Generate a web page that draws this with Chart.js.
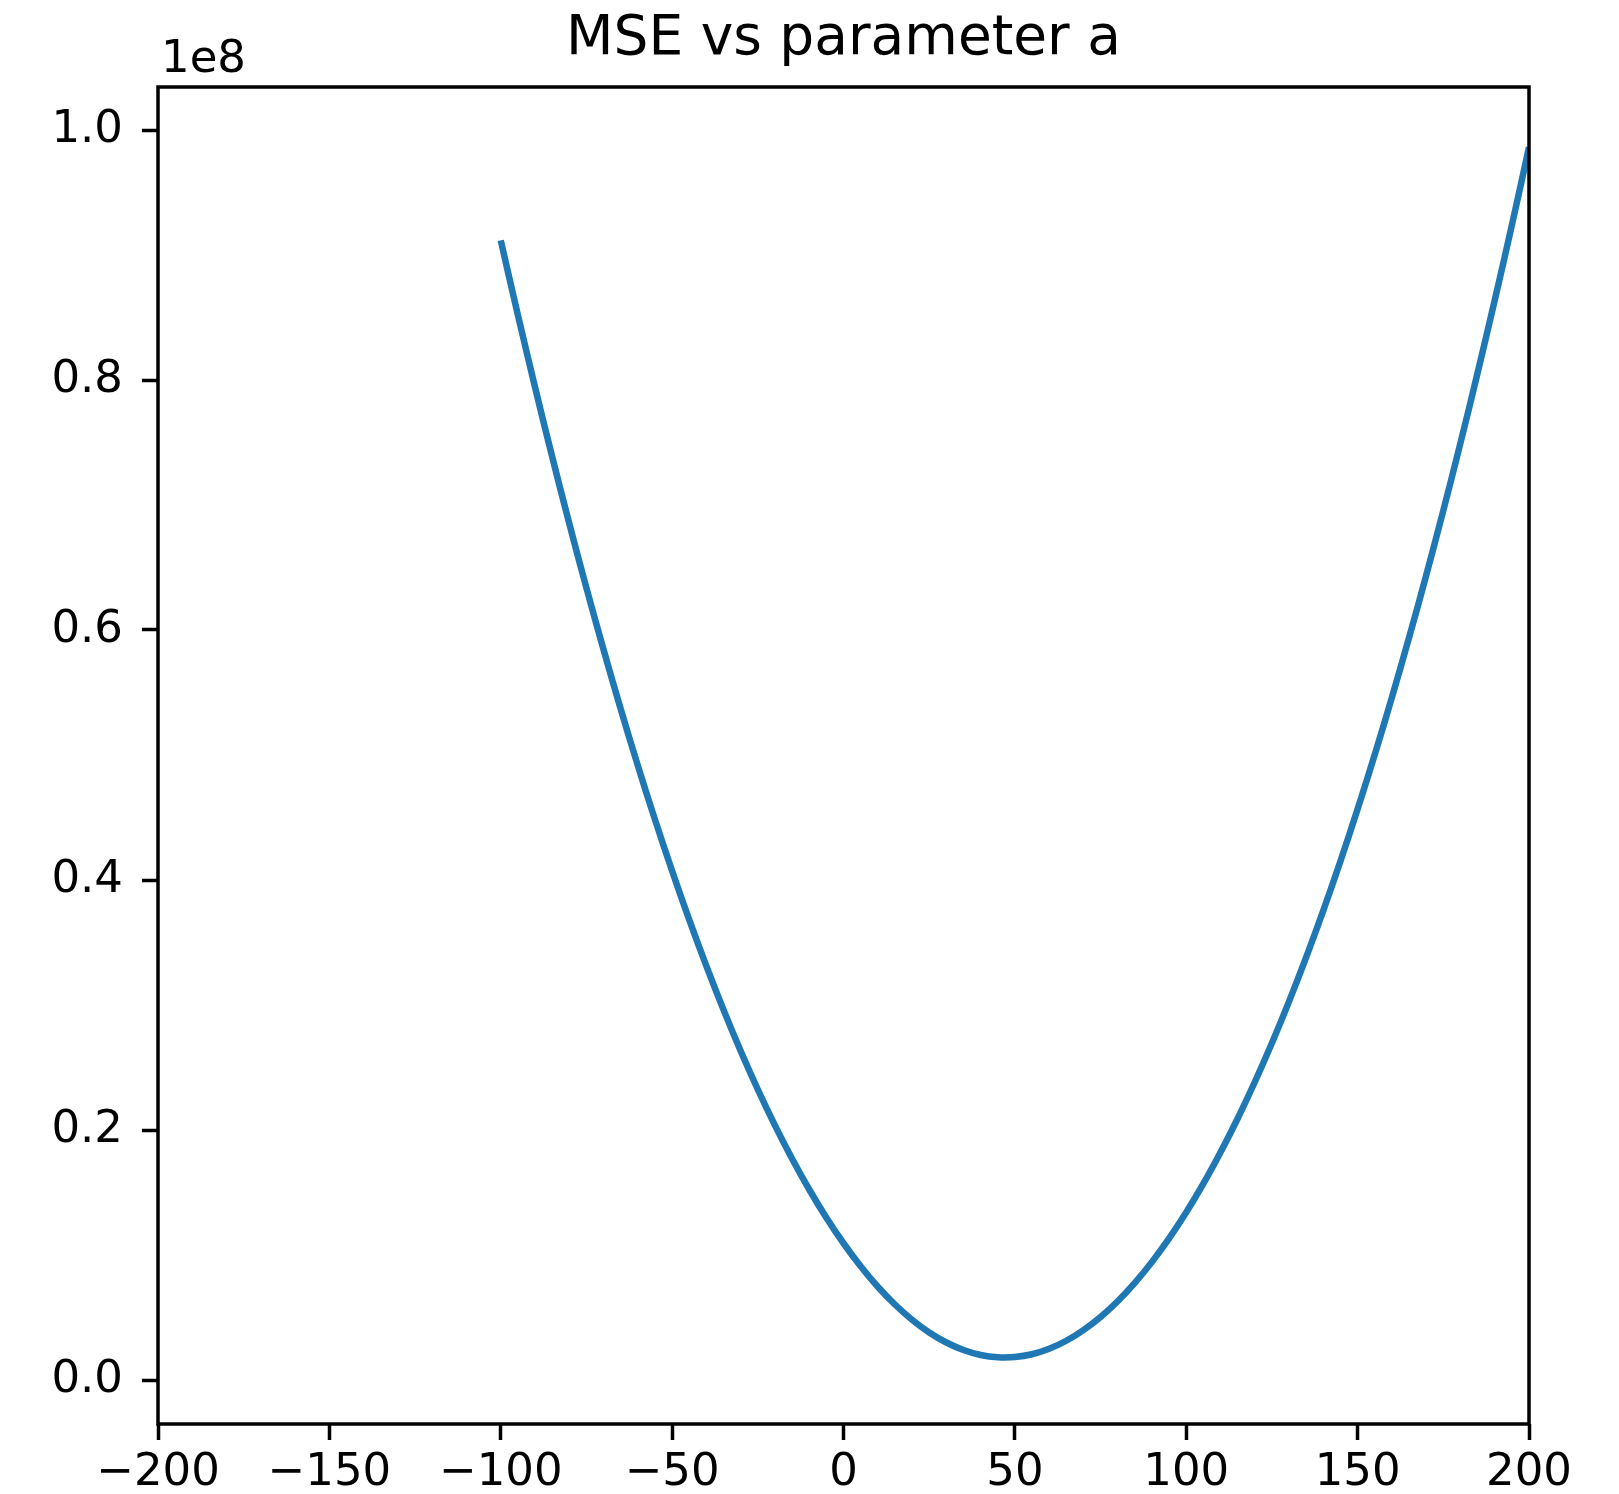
<!DOCTYPE html>
<html>
<head>
<meta charset="utf-8">
<title>MSE vs parameter a</title>
<script src="https://cdn.jsdelivr.net/npm/chart.js@4"></script>
<style>
  html, body { margin: 0; padding: 0; background: #fff; }
  #c { display: block; }
</style>
</head>
<body>
<canvas id="c" width="1619" height="1494"></canvas>
<script>
// ---- data ----
const aValues = [-100, -95, -90, -85, -80, -75, -70, -65, -60, -55, -50, -45, -40, -35, -30, -25, -20, -15, -10, -5,
  0, 5, 10, 15, 20, 25, 30, 35, 40, 45, 50, 55, 60, 65, 70, 75, 80, 85, 90, 95,
  100, 105, 110, 115, 120, 125, 130, 135, 140, 145, 150, 155, 160, 165, 170, 175, 180, 185, 190, 195, 200];
const mseValues = [0.9117e8, 0.8520e8, 0.7943e8, 0.7387e8, 0.6851e8, 0.6336e8, 0.5842e8, 0.5368e8, 0.4915e8, 0.4483e8,
  0.4072e8, 0.3681e8, 0.3311e8, 0.2961e8, 0.2632e8, 0.2324e8, 0.2037e8, 0.1770e8, 0.1524e8, 0.1298e8,
  0.1094e8, 0.0910e8, 0.0746e8, 0.0604e8, 0.0482e8, 0.0380e8, 0.0300e8, 0.0240e8, 0.0200e8, 0.0182e8,
  0.0184e8, 0.0206e8, 0.0250e8, 0.0314e8, 0.0399e8, 0.0504e8, 0.0630e8, 0.0777e8, 0.0945e8, 0.1133e8,
  0.1342e8, 0.1571e8, 0.1822e8, 0.2092e8, 0.2384e8, 0.2696e8, 0.3029e8, 0.3383e8, 0.3757e8, 0.4152e8,
  0.4568e8, 0.5004e8, 0.5461e8, 0.5939e8, 0.6437e8, 0.6956e8, 0.7496e8, 0.8057e8, 0.8638e8, 0.9239e8, 0.9862e8];
const xTicks = [-200, -150, -100, -50, 0, 50, 100, 150, 200];
const xTickLabels = ['\u2212200', '\u2212150', '\u2212100', '\u221250', '0', '50', '100', '150', '200'];
const yTicks = [0, 0.2e8, 0.4e8, 0.6e8, 0.8e8, 1.0e8];
const yTickLabels = ['0.0', '0.2', '0.4', '0.6', '0.8', '1.0'];
const offsetText = '1e8';
const titleText = 'MSE vs parameter a';

const FONT = 'DejaVu Sans';
const AX_W = 3.5;

// frame around the axes + the "1e8" offset label
const framePlugin = {
  id: 'frame',
  afterDatasetsDraw(chart) {
    const { ctx, chartArea: a } = chart;
    ctx.save();
    ctx.strokeStyle = '#000';
    ctx.lineWidth = AX_W;
    ctx.strokeRect(a.left, a.top, a.right - a.left, a.bottom - a.top);
    ctx.fillStyle = '#000';
    ctx.font = `45px "${FONT}"`;
    ctx.textAlign = 'left';
    ctx.textBaseline = 'alphabetic';
    ctx.fillText(offsetText, a.left + 3, 72);
    ctx.restore();
  }
};

new Chart(document.getElementById('c').getContext('2d'), {
  type: 'line',
  data: {
    datasets: [{
      label: 'MSE',
      data: aValues.map((a, i) => ({ x: a, y: mseValues[i] })),
      borderColor: '#1f77b4', borderWidth: 6.5, pointRadius: 0, fill: false,
      tension: 0.4
    }]
  },
  options: {
    responsive: false, animation: false, devicePixelRatio: 1,
    layout: { padding: { left: 0, right: 90, top: 0, bottom: 0 } },
    plugins: {
      legend: { display: false },
      tooltip: { enabled: false },
      title: {
        display: true, text: titleText, fullSize: false, color: '#000',
        font: { family: FONT, size: 55, weight: 'normal' }, padding: { top: 7, bottom: 14 }
      }
    },
    scales: {
      x: {
        type: 'linear', min: -200, max: 200,
        afterFit: s => { s.height = 70; },
        afterBuildTicks: s => { s.ticks = xTicks.map(v => ({ value: v })); },
        ticks: {
          color: '#000', font: { family: FONT, size: 45 }, padding: 6, maxRotation: 0, autoSkip: false,
          callback: v => xTickLabels[xTicks.indexOf(v)]
        },
        grid: { display: true, drawOnChartArea: false, drawTicks: true, tickLength: 16, tickWidth: AX_W, tickColor: '#000' },
        border: { display: false }
      },
      y: {
        type: 'linear', min: -0.0352e8, max: 1.0344e8,
        afterFit: s => { s.width = 158; },
        afterBuildTicks: s => { s.ticks = yTicks.map(v => ({ value: v })); },
        ticks: {
          color: '#000', font: { family: FONT, size: 45 }, padding: 19, autoSkip: false,
          callback: v => yTickLabels[yTicks.indexOf(v)]
        },
        grid: { display: true, drawOnChartArea: false, drawTicks: true, tickLength: 16, tickWidth: AX_W, tickColor: '#000' },
        border: { display: false }
      }
    }
  },
  plugins: [framePlugin]
});
</script>
</body>
</html>
